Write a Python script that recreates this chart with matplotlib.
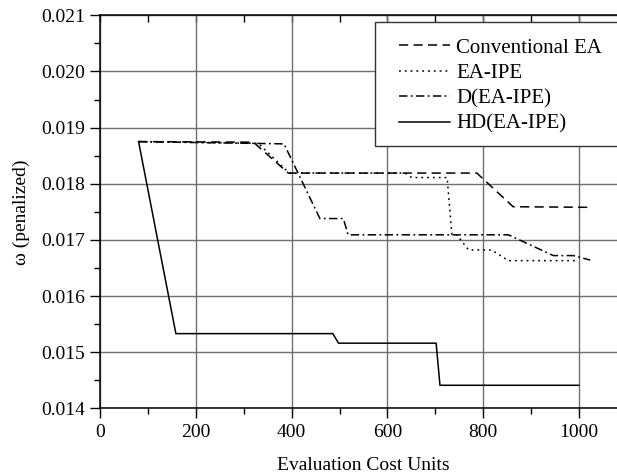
import matplotlib
matplotlib.use("Agg")
import matplotlib.pyplot as plt
from matplotlib.ticker import MultipleLocator, FormatStrFormatter
from matplotlib.patches import Rectangle

# Data
conv_x = [80, 320, 393, 787, 863, 1020]
conv_y = [0.01875, 0.01874, 0.01819, 0.01819, 0.01759, 0.01758]

eaipe_x = [80, 330, 395, 637, 651, 725, 735, 745, 770, 818, 853, 995]
eaipe_y = [0.01875, 0.01872, 0.01819, 0.01819, 0.01811, 0.01811, 0.01709,
           0.01709, 0.01682, 0.01682, 0.01663, 0.01663]

d_x = [80, 384, 459, 508, 518, 853, 947, 989, 1024]
d_y = [0.01875, 0.01871, 0.01738, 0.01738, 0.01709, 0.01709, 0.01672,
       0.01672, 0.01664]

hd_x = [80, 158, 486, 498, 702, 710, 1000]
hd_y = [0.01875, 0.01533, 0.01533, 0.01516, 0.01516, 0.01441, 0.01441]

labels = ["Conventional EA", "EA-IPE", "D(EA-IPE)", "HD(EA-IPE)"]
x_ticks = [0, 200, 400, 600, 800, 1000]
y_ticks = [0.014, 0.015, 0.016, 0.017, 0.018, 0.019, 0.020, 0.021]

plt.rcParams['font.family'] = ['Liberation Serif', 'DejaVu Serif']

fig = plt.figure(figsize=(6.17, 4.76), dpi=100)
W, H = 617, 476
x0px, x1000px = 100.3, 578.7
ppu = (x1000px - x0px) / 1000.0
xmax = 1100
ax = fig.add_axes([x0px / W, (H - 408.3) / H, xmax * ppu / W, (408.3 - 15.3) / H])

lw = 1.1
ax.plot(conv_x, conv_y, color='black', lw=lw, linestyle=(0, (6, 3.5)), label=labels[0])
ax.plot(eaipe_x, eaipe_y, color='black', lw=lw, linestyle=(0, (1.2, 2.6)), label=labels[1])
ax.plot(d_x, d_y, color='black', lw=lw, linestyle=(0, (5.5, 2.2, 1.2, 2.2)), label=labels[2])
ax.plot(hd_x, hd_y, color='black', lw=lw, linestyle='-', label=labels[3])

ax.set_xlim(0, xmax)
ax.set_ylim(0.014, 0.021)
ax.set_xticks(x_ticks)
ax.set_yticks(y_ticks)
ax.xaxis.set_minor_locator(MultipleLocator(100))
ax.yaxis.set_minor_locator(MultipleLocator(0.0005))
ax.yaxis.set_major_formatter(FormatStrFormatter('%.3f'))

ax.grid(True, which='major', color='#6e6e6e', lw=1.0)
ax.set_axisbelow(True)

ax.tick_params(axis='both', which='major', direction='out', length=7, width=1,
               labelsize=14, colors='black', pad=4)
ax.tick_params(axis='both', which='minor', direction='out', length=4, width=1)
ax.tick_params(axis='x', which='both', top=False, bottom=True)

# top ticks point inward
sec = ax.secondary_xaxis('top')
sec.set_xticks(x_ticks)
sec.xaxis.set_minor_locator(MultipleLocator(100))
sec.tick_params(axis='x', which='both', direction='in', length=5, width=1, labeltop=False)
sec.set_xticklabels([])

for s in ax.spines.values():
    s.set_linewidth(1.1)
    s.set_color('black')

ax.set_xlabel("Evaluation Cost Units", fontsize=14, labelpad=12)
ax.set_ylabel("ω (penalized)", fontsize=14, labelpad=8)

# legend box frame
fig.patches.append(Rectangle((375 / W, (H - 145.7) / H), (W + 5 - 375) / W, (145.7 - 21.7) / H,
                             transform=fig.transFigure, facecolor='white',
                             edgecolor='#333333', lw=1.0, zorder=5))
leg = fig.legend(loc='upper left', bbox_to_anchor=(399 / W, (H - 38) / H),
                 frameon=False, fontsize=15, handlelength=2.45, handletextpad=0.3,
                 labelspacing=0.28, borderpad=0.0, borderaxespad=0.0)
leg.set_zorder(6)

fig.savefig("out.png", dpi=100)
